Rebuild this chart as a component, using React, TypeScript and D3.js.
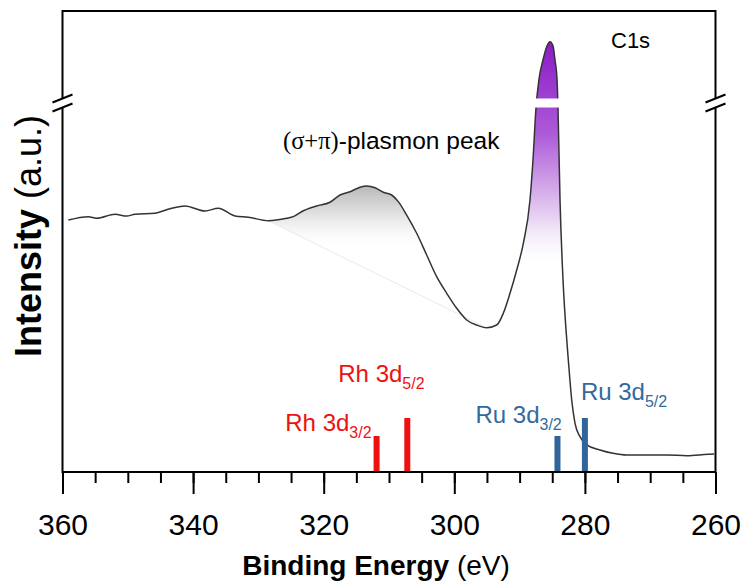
import React, { useEffect, useRef } from "react";
import * as d3 from "d3";

// C1s XPS spectrum: binding energy (eV) and intensity (a.u., broken scale above 30)
const bindingEnergy = [
  359.1, 356.05, 354.76, 351.96, 350.17, 348.9, 345.83, 343.84, 341.24, 338.18,
  336.14, 333.58, 331.55, 328.48, 325.67, 324.66, 323.12, 321.07, 319.04, 317.5,
  315.97, 314.44, 313.41, 312.14, 310.87, 309.59, 308.58, 307.29, 305.76, 304.23,
  302.7, 301.16, 299.63, 298.1, 296.57, 295.04, 293.51, 292.5, 291.47, 290.44,
  289.43, 288.41, 287.95, 287.49, 287.03, 286.42, 285.81, 285.34, 284.88, 284.58,
  284.27, 284.12, 283.81, 283.35, 282.89, 282.54, 282.02, 281.52, 280.75, 279.72,
  277.69, 275.7, 273.6, 270.54, 267.47, 264.41, 261.15, 260.23,
];
const intensity = [
  20.49, 20.76, 20.63, 20.95, 20.81, 20.95, 21.03, 21.36, 21.63, 21.22,
  21.44, 20.81, 20.71, 20.43, 20.63, 20.76, 21.24, 21.63, 21.93, 22.52,
  22.79, 23.15, 23.25, 23.11, 22.74, 22.52, 21.98, 20.89, 19.41, 17.64,
  15.88, 14.53, 13.31, 12.36, 11.95, 11.73, 11.95, 12.9, 14.53, 16.42,
  18.59, 22.11, 25.37, 29.59, 48.26, 62.72, 73.37, 76.64, 73.37, 62.72,
  48.26, 29.59, 22.11, 15.61, 11.54, 9.11, 5.85, 3.98, 2.87, 2.2,
  1.79, 1.52, 1.38, 1.38, 1.38, 1.33, 1.44, 1.46,
];

// Plasmon shoulder span and main C1s peak span (eV)
const plasmonRange = [328.48, 295.04];
const peakRange = [290.44, 281.52];

// Reference metal core levels
const refElement = ["Rh", "Rh", "Ru", "Ru"];
const refOrbital = ["3/2", "5/2", "3/2", "5/2"];
const refEnergy = [311.9, 307.2, 284.2, 280.0];
const refRelative = [2, 3, 2, 3];

const majorTicks = [360, 340, 320, 300, 280, 260];
const minorTicks = d3.range(360, 259, -5);

const W = 750;
const H = 587;
const M = { left: 62.5, right: 715.5, top: 11, bottom: 472 };
const BREAK_VALUE = 30;

const FONT = "'Liberation Sans', Arial, Helvetica, sans-serif";
const SERIF = "'Liberation Serif', 'Times New Roman', serif";
const COLORS: Record<string, string> = { Rh: "#ee1111", Ru: "#2f659b" };
const TEXT_COLORS: Record<string, string> = { Rh: "#ee1111", Ru: "#336a9c" };

// label placement relative to each bar top: [dx, dy, anchor]
const LABEL_LAYOUT: [number, number, string][] = [
  [-5, -5, "end"],
  [-69, -36, "start"],
  [-82, -13, "start"],
  [-4, -18, "start"],
];

export default function App() {
  const ref = useRef<SVGSVGElement | null>(null);

  useEffect(() => {
    const svg = d3.select(ref.current);
    svg.selectAll("*").remove();

    const x = d3.scaleLinear().domain([360, 260]).range([M.left, M.right]);
    const y = d3
      .scaleLinear()
      .domain([0, BREAK_VALUE, 100])
      .range([M.bottom, 103, M.top]);
    const barScale = d3.scaleLinear().domain([0, 1]).range([0, 18]);

    const pts = bindingEnergy.map((e, i) => ({ e, v: intensity[i] }));

    const defs = svg.append("defs");
    const pg = defs
      .append("linearGradient")
      .attr("id", "peakGrad")
      .attr("gradientUnits", "userSpaceOnUse")
      .attr("x1", 0)
      .attr("x2", 0)
      .attr("y1", y(76))
      .attr("y2", 270);
    pg.append("stop").attr("offset", 0).attr("stop-color", "#8a1bc5");
    pg.append("stop").attr("offset", 0.4).attr("stop-color", "#ad5ad8");
    pg.append("stop").attr("offset", 0.78).attr("stop-color", "#e9d6f3");
    pg.append("stop").attr("offset", 1).attr("stop-color", "#ffffff").attr("stop-opacity", 0);

    const gg = defs
      .append("linearGradient")
      .attr("id", "plasmonGrad")
      .attr("gradientUnits", "userSpaceOnUse")
      .attr("x1", 0)
      .attr("x2", 0)
      .attr("y1", y(23.3))
      .attr("y2", 250);
    gg.append("stop").attr("offset", 0).attr("stop-color", "#b9b9b9");
    gg.append("stop").attr("offset", 0.5).attr("stop-color", "#e6e6e6");
    gg.append("stop").attr("offset", 1).attr("stop-color", "#ffffff").attr("stop-opacity", 0);

    // plasmon shoulder fill above the straight background
    const pl = pts.filter((p) => p.e <= plasmonRange[0] && p.e >= plasmonRange[1]);
    const a = pl[0];
    const b = pl[pl.length - 1];
    const bg = (e: number) => a.v + ((e - a.e) / (b.e - a.e)) * (b.v - a.v);
    svg
      .append("path")
      .datum(pl)
      .attr("fill", "url(#plasmonGrad)")
      .attr(
        "d",
        d3
          .area<{ e: number; v: number }>()
          .x((d) => x(d.e))
          .y1((d) => y(d.v))
          .y0((d) => y(bg(d.e)))
          .curve(d3.curveMonotoneX)
      );
    svg
      .append("line")
      .attr("x1", x(a.e))
      .attr("y1", y(a.v))
      .attr("x2", x(b.e))
      .attr("y2", y(b.v))
      .attr("stroke", "#e4ebf0")
      .attr("stroke-width", 1);

    // main peak fill
    const pk = pts.filter((p) => p.e <= peakRange[0] && p.e >= peakRange[1]);
    svg
      .append("path")
      .datum(pk)
      .attr("fill", "url(#peakGrad)")
      .attr(
        "d",
        d3
          .area<{ e: number; v: number }>()
          .x((d) => x(d.e))
          .y1((d) => y(d.v))
          .y0(y(0))
          .curve(d3.curveMonotoneX)
      );

    // spectrum line
    svg
      .append("path")
      .datum(pts)
      .attr("fill", "none")
      .attr("stroke", "#333333")
      .attr("stroke-width", 1.5)
      .attr(
        "d",
        d3
          .line<{ e: number; v: number }>()
          .x((d) => x(d.e))
          .y((d) => y(d.v))
          .curve(d3.curveMonotoneX)
      );

    // reference bars
    refEnergy.forEach((e, i) => {
      const el = refElement[i];
      const h = barScale(refRelative[i]);
      svg
        .append("rect")
        .attr("x", x(e) - 3)
        .attr("y", M.bottom - h)
        .attr("width", 6)
        .attr("height", h)
        .attr("fill", COLORS[el]);
      const [dx, dy, anchor] = LABEL_LAYOUT[i];
      const t = svg
        .append("text")
        .attr("x", x(e) + dx)
        .attr("y", M.bottom - h + dy)
        .attr("text-anchor", anchor)
        .attr("font-family", FONT)
        .attr("font-size", 24)
        .attr("fill", TEXT_COLORS[el]);
      t.append("tspan").text(`${el} 3d`);
      t.append("tspan").attr("font-size", 16).attr("dy", 7).text(refOrbital[i]);
    });

    // frame
    const breakY = y(BREAK_VALUE);
    const frame = svg.append("g").attr("stroke", "#000").attr("stroke-width", 2).attr("fill", "none");
    frame
      .append("path")
      .attr(
        "d",
        `M${M.left},${M.bottom}V${M.top}H${M.right}V${M.bottom}Z`
      );

    // axis break: white band plus slanted marks on each side
    const gap = 4.5;
    svg
      .append("rect")
      .attr("x", M.left - 3)
      .attr("y", breakY - gap)
      .attr("width", M.right - M.left + 6)
      .attr("height", gap * 2)
      .attr("fill", "#fff");
    [M.left, M.right].forEach((cx) => {
      [-gap, gap].forEach((o) => {
        svg
          .append("line")
          .attr("x1", cx - 10)
          .attr("y1", breakY + o + 4)
          .attr("x2", cx + 10)
          .attr("y2", breakY + o - 4)
          .attr("stroke", "#000")
          .attr("stroke-width", 2);
      });
    });

    // x axis
    const minorAxis = d3
      .axisBottom(x)
      .tickValues(minorTicks)
      .tickSize(11)
      .tickFormat(() => "");
    const gMinor = svg.append("g").attr("transform", `translate(0,${M.bottom})`).call(minorAxis);
    gMinor.select(".domain").remove();
    gMinor.selectAll("line").attr("stroke", "#000").attr("stroke-width", 2);

    const majorAxis = d3
      .axisBottom(x)
      .tickValues(majorTicks)
      .tickSize(22)
      .tickPadding(20)
      .tickFormat(d3.format("d"));
    const gMajor = svg.append("g").attr("transform", `translate(0,${M.bottom})`).call(majorAxis);
    gMajor.select(".domain").remove();
    gMajor.selectAll("line").attr("stroke", "#000").attr("stroke-width", 2);
    gMajor
      .selectAll("text")
      .attr("font-family", FONT)
      .attr("font-size", 30)
      .attr("fill", "#000");

    // axis titles
    const xt = svg
      .append("text")
      .attr("x", 376)
      .attr("y", 575)
      .attr("text-anchor", "middle")
      .attr("font-family", FONT)
      .attr("font-size", 28)
      .attr("fill", "#000");
    xt.append("tspan").attr("font-weight", "bold").text("Binding Energy");
    xt.append("tspan").text(" (eV)");

    const yt = svg
      .append("text")
      .attr("transform", `translate(41,236) rotate(-90)`)
      .attr("text-anchor", "middle")
      .attr("font-family", FONT)
      .attr("font-size", 36)
      .attr("fill", "#000");
    yt.append("tspan").attr("font-weight", "bold").text("Intensity");
    yt.append("tspan").text(" (a.u.)");

    // annotations
    svg
      .append("text")
      .attr("x", 611)
      .attr("y", 48)
      .attr("font-family", FONT)
      .attr("font-size", 22)
      .attr("fill", "#000")
      .text("C1s");

    const pt = svg
      .append("text")
      .attr("x", 283)
      .attr("y", 149)
      .attr("font-size", 24.5)
      .attr("fill", "#000");
    pt.append("tspan").attr("font-family", SERIF).text("(σ+π)");
    pt.append("tspan").attr("font-family", FONT).text("-plasmon peak");
  }, []);

  return (
    <svg
      ref={ref}
      width={W}
      height={H}
      style={{ position: "absolute", left: 0, top: 0, background: "#fff" }}
    />
  );
}
